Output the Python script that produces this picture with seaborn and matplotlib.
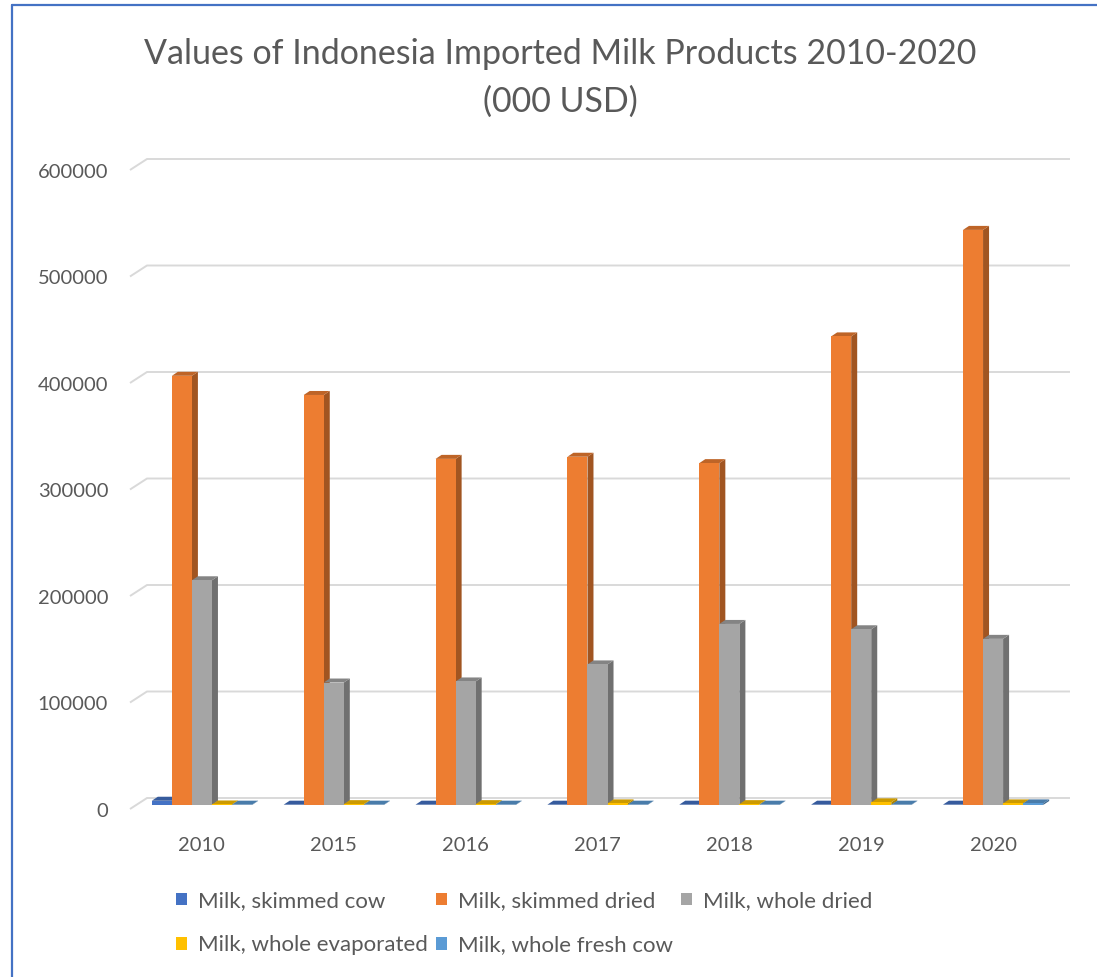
import numpy as np
import pandas as pd
import seaborn as sns
import matplotlib
matplotlib.use("Agg")
import matplotlib.pyplot as plt
import matplotlib.colors as mcolors
import matplotlib.transforms as mtransforms
from matplotlib.patches import Polygon, Patch, Rectangle
from matplotlib.lines import Line2D

# ---- data (thousand USD) ----
years = ["2010", "2015", "2016", "2017", "2018", "2019", "2020"]
skimmed_cow = [4000, 300, 300, 300, 300, 300, 300]
skimmed_dried = [403000, 385000, 325000, 327000, 321000, 440000, 540000]
whole_dried = [211000, 115000, 116000, 132000, 170000, 165000, 156000]
whole_evaporated = [500, 800, 800, 1500, 800, 2500, 1500]
whole_fresh_cow = [300, 300, 300, 300, 300, 300, 1500]

products = ["Milk, skimmed cow", "Milk, skimmed dried", "Milk, whole dried",
            "Milk, whole evaporated", "Milk, whole fresh cow"]
series = [skimmed_cow, skimmed_dried, whole_dried, whole_evaporated, whole_fresh_cow]
colors = ["#4472C4", "#ED7D31", "#A5A5A5", "#FFC000", "#5B9BD5"]
y_ticks = [0, 100000, 200000, 300000, 400000, 500000, 600000]

df = pd.DataFrame({
    "Year": np.tile(years, len(products)),
    "Product": np.repeat(products, len(years)),
    "Value": np.concatenate(series),
})

TEXT = "#595959"
GRID = "#D9D9D9"

sns.set_theme(style="white")
plt.rcParams["font.family"] = ["Lato", "DejaVu Sans"]

W, H = 1097, 977
fig = plt.figure(figsize=(W / 100, H / 100), dpi=100)
fig.patch.set_facecolor("white")

AX_L, AX_R, AX_B, AX_T = 136, 1059, 805, 166
ax = fig.add_axes([AX_L / W, 1 - AX_B / H, (AX_R - AX_L) / W, (AX_B - AX_T) / H])

sns.barplot(data=df, x="Year", y="Value", hue="Product", order=years,
            hue_order=products, palette=colors, width=0.76, saturation=1,
            linewidth=0, legend=False, ax=ax)

ax.set_xlim(-0.5, len(years) - 0.5)
ax.set_ylim(0, 600000)

# pixel -> data helpers for the pseudo-3D depth
xpp = len(years) / (AX_R - AX_L)
ypp = 600000 / (AX_B - AX_T)


def px_x(X):
    return -0.5 + (X - AX_L) * xpp


def darker(c, f):
    r, g, b = mcolors.to_rgb(c)
    return (r * f, g * f, b * f)


# back-wall gridlines with the short side-wall segment on the left
for v in y_ticks:
    ax.plot([px_x(130), px_x(147), px_x(1070)],
            [v - 4 * ypp, v + 7 * ypp, v + 7 * ypp],
            color=GRID, lw=1.4, clip_on=False, zorder=0.5, solid_capstyle="butt")

# side and top faces for each column
bars = [p for p in ax.patches if isinstance(p, Rectangle) and p.get_width() > 0]
bars.sort(key=lambda p: p.get_x())
ddx, ddy = 6 * xpp, 4 * ypp
for i, p in enumerate(bars):
    x0, y0 = p.get_x(), p.get_y()
    x1, y1 = x0 + p.get_width(), y0 + p.get_height()
    fc = p.get_facecolor()
    z = 2 + 0.001 * i
    p.set_zorder(z + 0.0005)
    side = Polygon([(x1, y0), (x1 + ddx, y0 + ddy), (x1 + ddx, y1 + ddy), (x1, y1)],
                   closed=True, facecolor=darker(fc, 0.68), edgecolor="none", zorder=z)
    top = Polygon([(x0, y1), (x0 + ddx, y1 + ddy), (x1 + ddx, y1 + ddy), (x1, y1)],
                  closed=True, facecolor=darker(fc, 0.8), edgecolor="none", zorder=z)
    ax.add_patch(side)
    ax.add_patch(top)

for s in ax.spines.values():
    s.set_visible(False)
ax.grid(False)
ax.set_xlabel("")
ax.set_ylabel("")
ax.set_yticks(y_ticks)
ax.set_yticklabels([str(v) for v in y_ticks])
ax.tick_params(axis="y", length=0, pad=20, labelsize=14.5, labelcolor=TEXT)
ax.tick_params(axis="x", length=0, pad=23, labelsize=14.5, labelcolor=TEXT)
ax.set_facecolor("none")

# value labels sit on the front edge of the floor, a little below the wall lines
label_shift = mtransforms.ScaledTranslation(0, -5 / 100, fig.dpi_scale_trans)
for lbl in ax.get_yticklabels():
    lbl.set_transform(lbl.get_transform() + label_shift)

# title
fig.text(560 / W, 1 - 64 / H, "Values of Indonesia Imported Milk Products 2010-2020",
         ha="center", va="baseline", fontsize=24.5, color=TEXT)
fig.text(560 / W, 1 - 112 / H, "(000 USD)",
         ha="center", va="baseline", fontsize=24.5, color=TEXT)

# legend laid out row by row
handles = [Patch(facecolor=c, edgecolor="none") for c in colors]
order = [0, 3, 1, 4, 2]
fig.legend([handles[k] for k in order], [products[k] for k in order],
           ncol=3, loc="upper left", bbox_to_anchor=(176 / W, 1 - 891 / H),
           frameon=False, fontsize=16, labelcolor=TEXT, borderpad=0,
           borderaxespad=0, handlelength=0.5, handleheight=0.5,
           handletextpad=0.5, columnspacing=0.35, labelspacing=1.1)

# chart frame
fig.add_artist(Line2D([12 / W, 12 / W], [0, 1 - 5 / H], transform=fig.transFigure,
                      color="#4472C4", lw=1.6))
fig.add_artist(Line2D([12 / W, 1], [1 - 5 / H, 1 - 5 / H], transform=fig.transFigure,
                      color="#4472C4", lw=1.6))

fig.savefig("out.png", dpi=100)
